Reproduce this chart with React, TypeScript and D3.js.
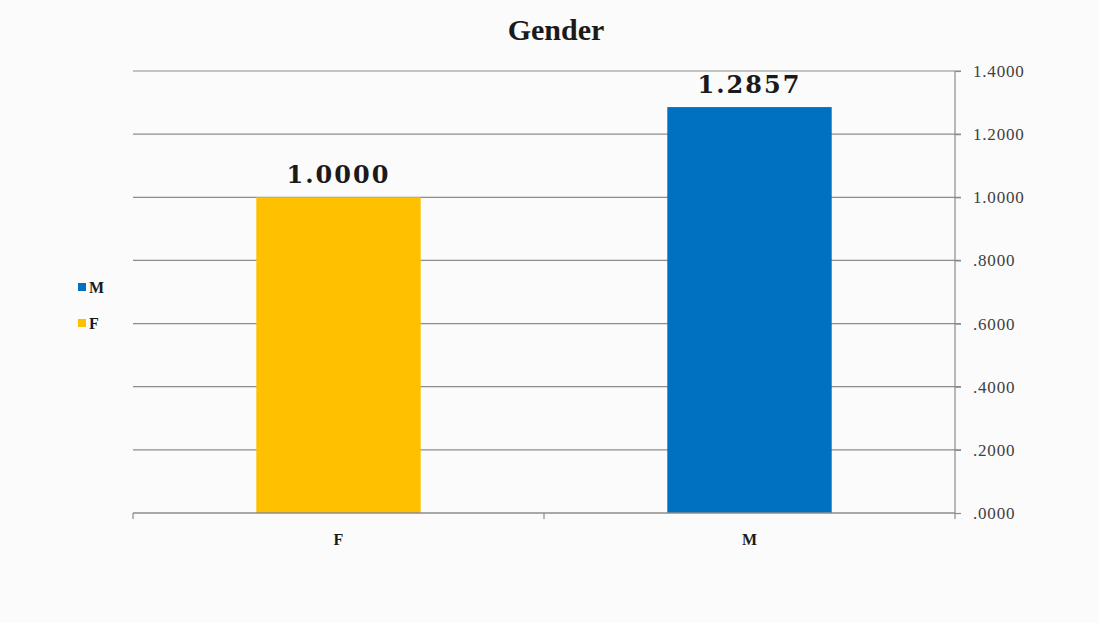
import { useEffect, useRef } from 'react'
import * as d3 from 'd3'

const categories = ['F', 'M']
const values = [1.0, 1.2857]
const colors = ['#FFC000', '#0070C0']
const legendOrder = ['M', 'F']
const yTicks = [0, 0.2, 0.4, 0.6, 0.8, 1.0, 1.2, 1.4]

const fmtTick = (v: number) => {
  const s = v.toFixed(4)
  return s.startsWith('0') ? s.slice(1) : s
}

export default () => {
  const rootRef = useRef<SVGSVGElement>(null)

  useEffect(() => {
    const width = 1099,
      height = 623
    const margin = { top: 71, right: 144, bottom: 110, left: 133 }

    const svg = d3.select(rootRef.current)
    svg.selectAll('*').remove()
    svg.attr('width', width).attr('height', height)

    svg.append('rect').attr('width', width).attr('height', height).attr('fill', '#fbfbfb')

    const x = d3
      .scaleBand()
      .domain(categories)
      .range([margin.left, width - margin.right])
      .paddingInner(0.6)
      .paddingOuter(0.3)
    const y = d3
      .scaleLinear()
      .domain([0, 1.4])
      .range([height - margin.bottom, margin.top])

    const x0 = margin.left
    const x1 = width - margin.right

    // gridlines
    svg
      .append('g')
      .selectAll('line')
      .data(yTicks.filter((t) => t > 0))
      .join('line')
      .attr('x1', x0)
      .attr('x2', x1 + 6)
      .attr('y1', (d) => y(d))
      .attr('y2', (d) => y(d))
      .attr('stroke', '#8c8c8c')
      .attr('stroke-width', 1.2)

    // bars
    svg
      .append('g')
      .selectAll('rect')
      .data(values)
      .join('rect')
      .attr('x', (_, i) => x(categories[i])!)
      .attr('width', x.bandwidth())
      .attr('y', (d) => y(d))
      .attr('height', (d) => y(0) - y(d))
      .attr('fill', (_, i) => colors[i])

    // right axis
    const yAxis = svg
      .append('g')
      .attr('transform', `translate(${x1},0)`)
      .call(
        d3
          .axisRight(y)
          .tickValues(yTicks)
          .tickSize(6)
          .tickPadding(12)
          .tickFormat((d) => fmtTick(d as number))
      )
    yAxis.select('.domain').attr('stroke', '#8c8c8c').attr('stroke-width', 1.2).attr('d', `M0,${y(1.4)}V${y(0)}`)
    yAxis.selectAll('.tick line').attr('stroke', '#8c8c8c').attr('stroke-width', 1.2)
    yAxis
      .selectAll('.tick text')
      .attr('fill', '#404040')
      .style('font-family', '"Liberation Serif", "DejaVu Serif", serif')
      .style('font-size', '17px')
      .style('letter-spacing', '0.8px')

    // bottom axis
    const bottom = svg.append('g').attr('transform', `translate(0,${y(0)})`)
    bottom
      .append('line')
      .attr('x1', x0)
      .attr('x2', x1)
      .attr('stroke', '#8c8c8c')
      .attr('stroke-width', 1.4)
    const boundaries = [x0, x0 + (x1 - x0) / 2, x1]
    bottom
      .selectAll('line.tk')
      .data(boundaries)
      .join('line')
      .attr('class', 'tk')
      .attr('x1', (d) => d)
      .attr('x2', (d) => d)
      .attr('y1', 0)
      .attr('y2', 6)
      .attr('stroke', '#8c8c8c')
      .attr('stroke-width', 1.2)
    bottom
      .selectAll('text')
      .data(categories)
      .join('text')
      .attr('x', (d) => x(d)! + x.bandwidth() / 2)
      .attr('y', 32)
      .attr('text-anchor', 'middle')
      .attr('fill', '#1a1a1a')
      .style('font-family', '"Liberation Serif", "DejaVu Serif", serif')
      .style('font-weight', 'bold')
      .style('font-size', '16px')
      .text((d) => d)

    // value labels
    svg
      .append('g')
      .selectAll('text')
      .data(values)
      .join('text')
      .attr('x', (_, i) => x(categories[i])! + x.bandwidth() / 2)
      .attr('y', (d) => y(d) - 14)
      .attr('text-anchor', 'middle')
      .attr('fill', '#1a1a1a')
      .style('font-family', '"DejaVu Serif", serif')
      .style('font-weight', 'bold')
      .style('font-size', '24px')
      .style('letter-spacing', '2px')
      .text((d) => d.toFixed(4))

    // title
    svg
      .append('text')
      .attr('x', 556)
      .attr('y', 40)
      .attr('text-anchor', 'middle')
      .attr('fill', '#1a1a1a')
      .style('font-family', '"Liberation Serif", serif')
      .style('font-weight', 'bold')
      .style('font-size', '30px')
      .text('Gender')

    // legend
    const legend = svg
      .append('g')
      .selectAll('g')
      .data(legendOrder)
      .join('g')
      .attr('transform', (_, i) => `translate(78,${287 + i * 36})`)
    legend
      .append('rect')
      .attr('x', 0)
      .attr('y', -4)
      .attr('width', 8)
      .attr('height', 8)
      .attr('fill', (d) => colors[categories.indexOf(d)])
    legend
      .append('text')
      .attr('x', 11)
      .attr('y', 6)
      .attr('fill', '#1a1a1a')
      .style('font-family', '"Liberation Serif", serif')
      .style('font-weight', 'bold')
      .style('font-size', '16px')
      .text((d) => d)
  }, [])

  return <svg ref={rootRef} style={{ position: 'absolute', left: 0, top: 0 }}></svg>
}
